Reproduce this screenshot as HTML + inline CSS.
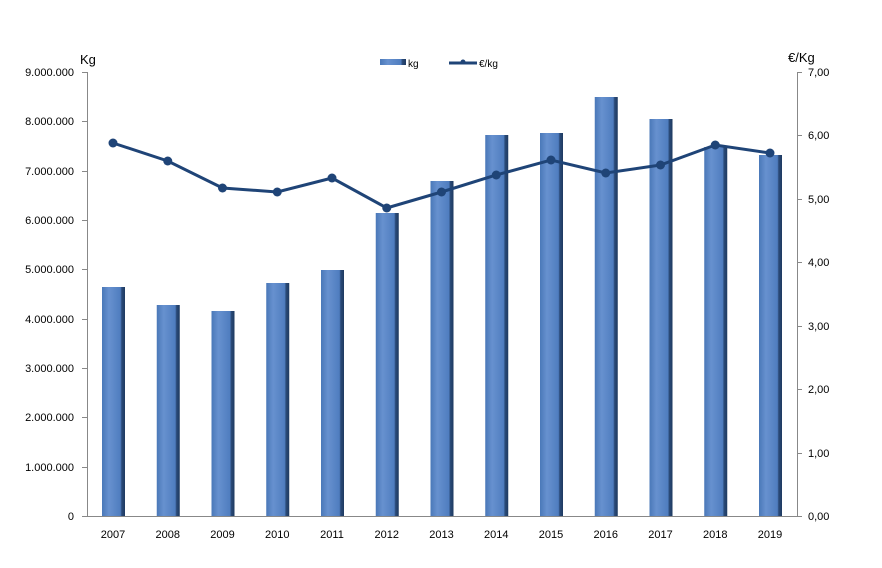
<!DOCTYPE html>
<html><head><meta charset="utf-8"><style>body{margin:0;background:#fff}svg{display:block;font-family:"Liberation Sans",sans-serif}</style></head><body>
<svg width="882" height="568" xmlns="http://www.w3.org/2000/svg">
<defs><linearGradient id="g" x1="0" x2="1" y1="0" y2="0">
<stop offset="0" stop-color="#4a78b8"/><stop offset="0.3" stop-color="#6791cf"/><stop offset="0.8" stop-color="#4f7dbf"/><stop offset="0.86" stop-color="#2a4a78"/><stop offset="1" stop-color="#1e3a60"/></linearGradient></defs>
<g fill="url(#g)">
<rect x="102" y="287" width="23" height="229"/>
<rect x="156.75" y="305" width="23" height="211"/>
<rect x="211.5" y="311" width="23" height="205"/>
<rect x="266.25" y="283" width="23" height="233"/>
<rect x="321" y="270" width="23" height="246"/>
<rect x="375.75" y="213" width="23" height="303"/>
<rect x="430.5" y="181" width="23" height="335"/>
<rect x="485.25" y="135" width="23" height="381"/>
<rect x="540" y="133" width="23" height="383"/>
<rect x="594.75" y="97" width="23" height="419"/>
<rect x="649.5" y="119" width="23" height="397"/>
<rect x="704.25" y="147" width="23" height="369"/>
<rect x="759" y="155" width="23" height="361"/>
</g>
<g stroke="#888" stroke-width="1" fill="none">
<path d="M87.5 72V516.5H797.5V72"/>
<path d="M82 72.5h5M82 121.5h5M82 171.5h5M82 220.5h5M82 269.5h5M82 319.5h5M82 368.5h5M82 417.5h5M82 467.5h5M82 516.5h5"/>
<path d="M797 72.5h5M797 135.5h5M797 199.5h5M797 262.5h5M797 326.5h5M797 389.5h5M797 453.5h5M797 516.5h5"/>
</g>
<polyline fill="none" stroke="#1f4477" stroke-width="3" points="113,143 167.75,161 222.5,188 277.25,192 332,178 386.75,208 441.5,192 496.25,175 551,160 605.75,173 660.5,165 715.25,145 770,153"/>
<g fill="#1f4477">
<circle cx="113" cy="143" r="4.5"/><circle cx="167.75" cy="161" r="4.5"/><circle cx="222.5" cy="188" r="4.5"/><circle cx="277.25" cy="192" r="4.5"/><circle cx="332" cy="178" r="4.5"/><circle cx="386.75" cy="208" r="4.5"/><circle cx="441.5" cy="192" r="4.5"/><circle cx="496.25" cy="175" r="4.5"/><circle cx="551" cy="160" r="4.5"/><circle cx="605.75" cy="173" r="4.5"/><circle cx="660.5" cy="165" r="4.5"/><circle cx="715.25" cy="145" r="4.5"/><circle cx="770" cy="153" r="4.5"/>
</g>
<g font-size="11" fill="#000" text-anchor="end">
<text x="74" y="76">9.000.000</text><text x="74" y="125">8.000.000</text><text x="74" y="175">7.000.000</text><text x="74" y="224">6.000.000</text><text x="74" y="273">5.000.000</text><text x="74" y="323">4.000.000</text><text x="74" y="372">3.000.000</text><text x="74" y="421">2.000.000</text><text x="74" y="471">1.000.000</text><text x="74" y="520">0</text>
</g>
<g font-size="11" fill="#000">
<text x="808" y="76">7,00</text><text x="808" y="139">6,00</text><text x="808" y="203">5,00</text><text x="808" y="266">4,00</text><text x="808" y="330">3,00</text><text x="808" y="393">2,00</text><text x="808" y="457">1,00</text><text x="808" y="520">0,00</text>
</g>
<g font-size="11" fill="#000" text-anchor="middle">
<text x="113" y="538">2007</text><text x="167.75" y="538">2008</text><text x="222.5" y="538">2009</text><text x="277.25" y="538">2010</text><text x="332" y="538">2011</text><text x="386.75" y="538">2012</text><text x="441.5" y="538">2013</text><text x="496.25" y="538">2014</text><text x="551" y="538">2015</text><text x="605.75" y="538">2016</text><text x="660.5" y="538">2017</text><text x="715.25" y="538">2018</text><text x="770" y="538">2019</text>
</g>
<text x="80" y="64" font-size="13">Kg</text>
<text x="788" y="62" font-size="13">€/Kg</text>
<rect x="380" y="59" width="26" height="6" fill="url(#g)"/>
<text x="408" y="67" font-size="10">kg</text>
<line x1="449" y1="63" x2="477" y2="63" stroke="#1f4477" stroke-width="3"/>
<circle cx="463" cy="62" r="2.5" fill="#1f4477"/>
<text x="479" y="67" font-size="10">€/kg</text>
</svg>
</body></html>
